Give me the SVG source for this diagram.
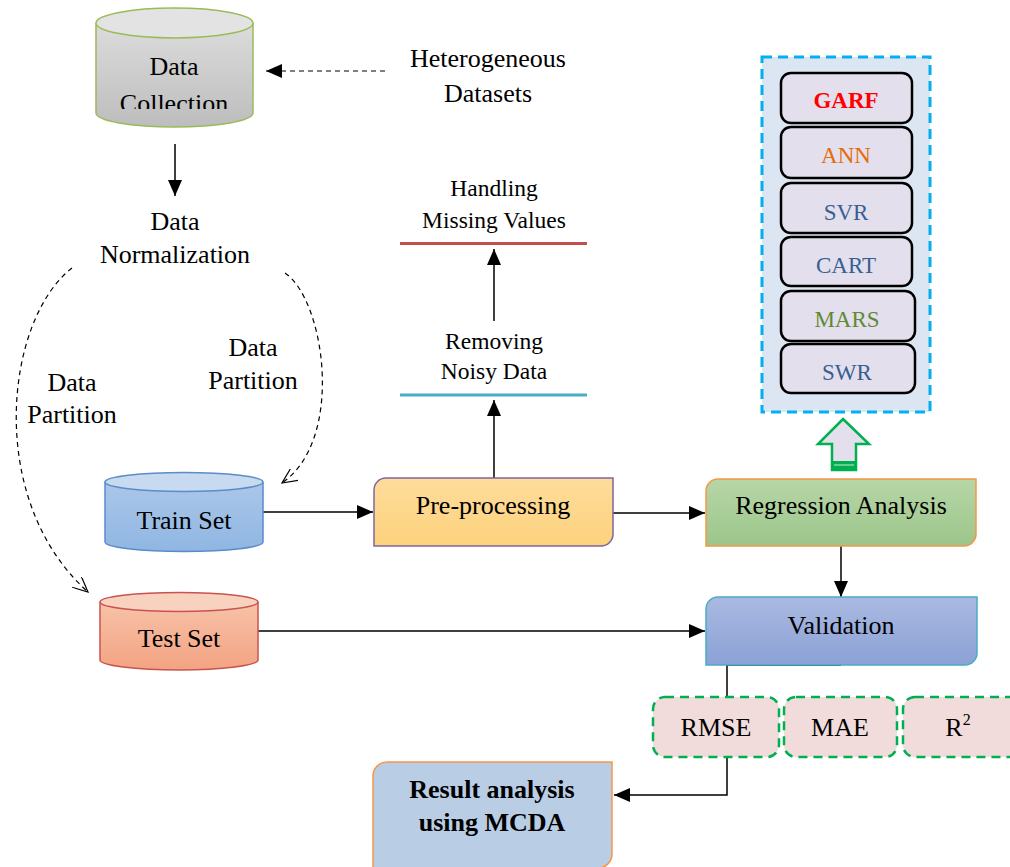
<svg xmlns="http://www.w3.org/2000/svg" width="1010" height="867" viewBox="0 0 1010 867">
<defs>
<style>
text{font-family:"Liberation Serif","Times New Roman",serif;fill:#000;text-anchor:middle}
.t26{font-size:26px}
.t23{font-size:23.5px}
.m{font-size:23px}
.ln{stroke:#000;stroke-width:1.5;fill:none}
.dash{stroke:#000;stroke-width:1.2;fill:none;stroke-dasharray:5,4}
.model{fill:#e4dfec;stroke:#000;stroke-width:2.5}
.metric{fill:#f2dcdb;stroke:#00b050;stroke-width:2.5;stroke-dasharray:9,6}
</style>
<marker id="ah" viewBox="0 0 16 14" refX="16" refY="7" markerWidth="16" markerHeight="14" markerUnits="userSpaceOnUse" orient="auto">
<path d="M0,0 L16,7 L0,14 Z" fill="#000"/>
</marker>
<marker id="oh" viewBox="0 0 16 14" refX="15" refY="7" markerWidth="16" markerHeight="14" markerUnits="userSpaceOnUse" orient="auto">
<path d="M0,0 L15,7 L0,14" fill="none" stroke="#000" stroke-width="1.2"/>
</marker>
<linearGradient id="gGray" x1="0" y1="0" x2="0" y2="1"><stop offset="0" stop-color="#dcdcdc"/><stop offset="1" stop-color="#bdbdbd"/></linearGradient>
<linearGradient id="gBlue" x1="0" y1="0" x2="0" y2="1"><stop offset="0" stop-color="#abc7e9"/><stop offset="1" stop-color="#8fb6e2"/></linearGradient>
<linearGradient id="gRed" x1="0" y1="0" x2="0" y2="1"><stop offset="0" stop-color="#f7c2a8"/><stop offset="1" stop-color="#f3a382"/></linearGradient>
<linearGradient id="gYel" x1="0" y1="0" x2="0" y2="1"><stop offset="0" stop-color="#fedc9c"/><stop offset="1" stop-color="#fdd27c"/></linearGradient>
<linearGradient id="gGrn" x1="0" y1="0" x2="0" y2="1"><stop offset="0" stop-color="#b7d6a7"/><stop offset="1" stop-color="#9cc68a"/></linearGradient>
<linearGradient id="gVal" x1="0" y1="0" x2="0" y2="1"><stop offset="0" stop-color="#aab9e1"/><stop offset="1" stop-color="#8ba2d6"/></linearGradient>
<clipPath id="clipDC"><rect x="90" y="0" width="170" height="109"/></clipPath>
</defs>
<rect width="1010" height="867" fill="#fff"/>

<g id="connectors">
<line class="dash" x1="385" y1="71" x2="266" y2="71" marker-end="url(#ah)" stroke-dasharray="6,4"/>
<line class="ln" x1="175" y1="144" x2="175" y2="196" marker-end="url(#ah)"/>
<path class="dash" d="M72,268 C5,320 -15,500 88,592" marker-end="url(#oh)"/>
<path class="dash" d="M285,273 C325,300 345,440 282,483" marker-end="url(#oh)"/>
<line class="ln" x1="263" y1="512" x2="373" y2="512" marker-end="url(#ah)"/>
<line class="ln" x1="494" y1="478" x2="494" y2="400" marker-end="url(#ah)"/>
<line class="ln" x1="494" y1="321" x2="494" y2="249" marker-end="url(#ah)"/>
<line class="ln" x1="613" y1="513" x2="705" y2="513" marker-end="url(#ah)"/>
<line class="ln" x1="841" y1="546" x2="841" y2="597" marker-end="url(#ah)"/>
<line class="ln" x1="258" y1="631" x2="705" y2="631" marker-end="url(#ah)"/>
<path class="ln" d="M841,665 H727 V795 H614" marker-end="url(#ah)"/>
</g>

<g id="data-collection">
<path d="M96,23 V113 A78.5,14 0 0 0 253,113 V23" fill="url(#gGray)" stroke="#9bbb59" stroke-width="1.5"/>
<ellipse cx="174.5" cy="23" rx="78.5" ry="15" fill="#e3e3e3" stroke="#9bbb59" stroke-width="1.5"/>
<text class="t26" x="174" y="75">Data</text>
<text class="t26" x="174" y="112" clip-path="url(#clipDC)">Collection</text>
</g>

<g id="heterogeneous">
<text class="t26" x="488" y="67">Heterogeneous</text>
<text class="t26" x="488" y="102">Datasets</text>
</g>

<g id="normalization">
<text class="t26" x="175" y="230">Data</text>
<text class="t26" x="175" y="263">Normalization</text>
</g>

<g id="partition-left">
<text class="t26" x="72" y="391">Data</text>
<text class="t26" x="72" y="423">Partition</text>
</g>
<g id="partition-right">
<text class="t26" x="253" y="356">Data</text>
<text class="t26" x="253" y="389">Partition</text>
</g>

<g id="train-set">
<path d="M105,482 V542 A79,9.5 0 0 0 263,542 V482" fill="url(#gBlue)" stroke="#5a8ccb" stroke-width="1.5"/>
<ellipse cx="184" cy="482" rx="79" ry="9.5" fill="#c7daf0" stroke="#5a8ccb" stroke-width="1.5"/>
<text class="t26" x="184" y="529">Train Set</text>
</g>

<g id="test-set">
<path d="M100,602 V660 A79,10 0 0 0 258,660 V602" fill="url(#gRed)" stroke="#c9544f" stroke-width="1.5"/>
<ellipse cx="179" cy="602" rx="79" ry="9.5" fill="#f9d1bf" stroke="#c9544f" stroke-width="1.5"/>
<text class="t26" x="179" y="647">Test Set</text>
</g>

<g id="pre-processing">
<path d="M386,478 H613 V534 A12,12 0 0 1 601,546 H374 V490 A12,12 0 0 1 386,478 Z" fill="url(#gYel)" stroke="#8064a2" stroke-width="1.5"/>
<text class="t26" x="493" y="514">Pre-processing</text>
</g>

<g id="removing-noisy">
<text class="t23" x="494" y="349">Removing</text>
<text class="t23" x="494" y="379">Noisy Data</text>
<line x1="400" y1="395" x2="587" y2="395" stroke="#4bacc6" stroke-width="3"/>
</g>

<g id="handling-missing">
<text class="t23" x="494" y="196">Handling</text>
<text class="t23" x="494" y="228">Missing Values</text>
<line x1="400" y1="243.5" x2="587" y2="243.5" stroke="#c0504d" stroke-width="3"/>
</g>

<g id="regression">
<path d="M718,479 H976 V534 A12,12 0 0 1 964,546 H706 V491 A12,12 0 0 1 718,479 Z" fill="url(#gGrn)" stroke="#f79646" stroke-width="1.5"/>
<text class="t26" x="841" y="514">Regression Analysis</text>
</g>

<g id="models">
<rect x="762" y="57" width="168" height="355" fill="#dce6f2" stroke="#00b0f0" stroke-width="3" stroke-dasharray="10,6"/>
<rect class="model" x="781" y="73" width="131" height="50" rx="10"/>
<text class="m" x="846" y="108" style="fill:#ff0000;font-weight:bold">GARF</text>
<rect class="model" x="781" y="127" width="131" height="51" rx="10"/>
<text class="m" x="846" y="163" style="fill:#e46c0a">ANN</text>
<rect class="model" x="781" y="183" width="131" height="50" rx="10"/>
<text class="m" x="846" y="220" style="fill:#376092">SVR</text>
<rect class="model" x="781" y="237" width="131" height="49" rx="10"/>
<text class="m" x="846" y="273" style="fill:#376092">CART</text>
<rect class="model" x="781" y="291" width="134" height="50" rx="10"/>
<text class="m" x="847" y="327" style="fill:#5f8a32">MARS</text>
<rect class="model" x="781" y="344" width="134" height="49" rx="10"/>
<text class="m" x="847" y="380" style="fill:#376092">SWR</text>
</g>

<g id="up-arrow">
<path d="M843,419 L869,444 H856 V470 H832 V444 H818 Z" fill="#e4dfec" stroke="#00b050" stroke-width="2.5"/>
<rect x="832" y="461" width="24" height="9" fill="#00b050"/>
<line x1="834" y1="465" x2="854" y2="465" stroke="#c6efce" stroke-width="1"/>
</g>

<g id="validation">
<path d="M718,597 H977 V653 A12,12 0 0 1 965,665 H706 V609 A12,12 0 0 1 718,597 Z" fill="url(#gVal)" stroke="#4bacc6" stroke-width="1.5"/>
<text class="t26" x="841" y="634">Validation</text>
</g>

<g id="rmse">
<rect class="metric" x="653" y="697" width="126" height="60" rx="12"/>
<text class="t26" x="716" y="736">RMSE</text>
</g>
<g id="mae">
<rect class="metric" x="784" y="697" width="113" height="60" rx="12"/>
<text class="t26" x="840" y="736">MAE</text>
</g>
<g id="r2">
<rect class="metric" x="903" y="697" width="120" height="60" rx="12"/>
<text class="t26" x="958" y="736">R<tspan font-size="16" dy="-11">2</tspan></text>
</g>

<g id="result">
<path d="M387,762 H612 V854 A14,14 0 0 1 598,868 H373 V776 A14,14 0 0 1 387,762 Z" fill="#b9cde5" stroke="#f79646" stroke-width="1.5"/>
<text class="t26" x="492" y="798" font-weight="bold">Result analysis</text>
<text class="t26" x="492" y="831" font-weight="bold">using MCDA</text>
</g>
</svg>
